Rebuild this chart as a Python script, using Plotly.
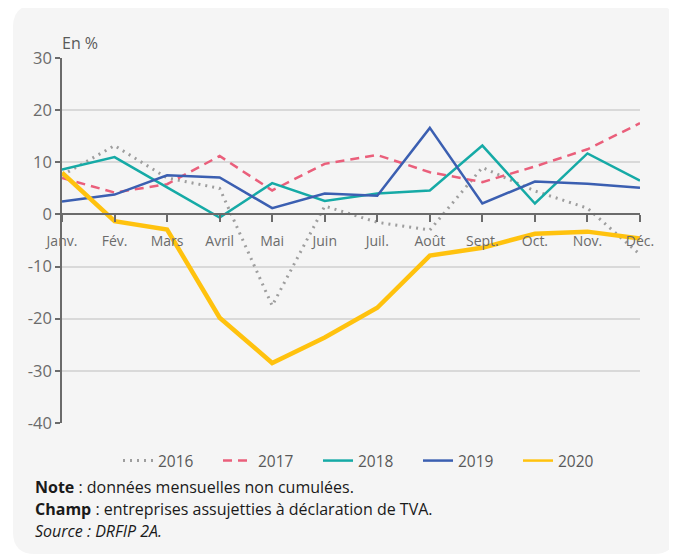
import plotly.graph_objects as go

months = ["Janv.", "Fév.", "Mars", "Avril", "Mai", "Juin", "Juil.", "Août", "Sept.", "Oct.", "Nov.", "Déc."]
y2016 = [7.5, 13.2, 7.0, 5.0, -17.5, 1.6, -1.5, -3.0, 9.0, 4.5, 1.2, -7.7]
y2017 = [7.0, 4.2, 5.8, 11.2, 4.6, 9.7, 11.4, 8.1, 6.2, 9.2, 12.5, 17.5]
y2018 = [8.6, 11.0, 5.2, -0.6, 6.0, 2.6, 4.0, 4.6, 13.2, 2.1, 11.7, 6.5]
y2019 = [2.5, 3.8, 7.5, 7.1, 1.2, 4.0, 3.6, 16.6, 2.1, 6.3, 5.9, 5.1]
y2020 = [8.0, -1.3, -2.9, -19.8, -28.5, -23.6, -17.9, -7.9, -6.4, -3.7, -3.3, -4.6]
yticks = [30, 20, 10, 0, -10, -20, -30, -40]
yticklabels = ["30", "20", "10", "0", "-10", "-20", "-30", "-40"]

OFF = 8  # browser body margin
W, H = 677 - OFF, 555 - OFF
L, R, T, B = 62, 640, 58, 423  # plot area in screen pixels
FONT = "Open Sans"

def px(x):
    return (x - L) / (R - L)

def py(y):
    return (B - y) / (B - T)

xs = list(range(len(months)))
fig = go.Figure()
series = [
    ("2016", y2016, dict(color="#9e9e9e", width=3, dash="2px,5px"), None),
    ("2017", y2017, dict(color="#ea5f7b", width=2.5, dash="9px,6px"), None),
    ("2018", y2018, dict(color="#16aaa6", width=2.5), None),
    ("2019", y2019, dict(color="#3b5fb1", width=2.5), None),
    ("2020", y2020, dict(color="#ffc20e", width=4.5), dict(color="#ffc20e", width=2.5)),
]
for name, ys, line, legline in series:
    if legline is None:
        fig.add_trace(go.Scatter(x=xs, y=ys, mode="lines", name=name, line=line))
    else:
        # thick line on the chart, thin sample in the legend
        fig.add_trace(go.Scatter(x=xs, y=ys, mode="lines", name=name, line=line,
                                 legendgroup=name, showlegend=False))
        fig.add_trace(go.Scatter(x=[None], y=[None], mode="lines", name=name, line=legline,
                                 legendgroup=name, showlegend=True))

# rounded card background
x0, y0, x1, y1, r = 13, 5, 676, 554, 22
path = (
    f"M {px(x0 + r)} {py(y0)} L {px(x1 - r)} {py(y0)} Q {px(x1)} {py(y0)} {px(x1)} {py(y0 + r)} "
    f"L {px(x1)} {py(y1 - r)} Q {px(x1)} {py(y1)} {px(x1 - r)} {py(y1)} "
    f"L {px(x0 + r)} {py(y1)} Q {px(x0)} {py(y1)} {px(x0)} {py(y1 - r)} "
    f"L {px(x0)} {py(y0 + r)} Q {px(x0)} {py(y0)} {px(x0 + r)} {py(y0)} Z"
)
fig.add_shape(type="path", path=path, xref="paper", yref="paper",
              fillcolor="#f5f5f5", line=dict(width=0), layer="below")

fig.update_layout(
    width=W, height=H,
    margin=dict(l=L - OFF, r=W - (R - OFF), t=T - OFF, b=H - (B - OFF)),
    paper_bgcolor="white", plot_bgcolor="rgba(0,0,0,0)",
    font=dict(family=FONT, color="#595959", size=14),
    showlegend=True,
    legend=dict(orientation="h", x=px(118), xanchor="left", y=py(461), yanchor="middle",
                font=dict(size=15.5, color="#595959"), bgcolor="rgba(0,0,0,0)",
                entrywidth=55, entrywidthmode="pixels", itemwidth=30, tracegroupgap=0),
    xaxis=dict(range=[0, 11], tickvals=xs, ticktext=months, showgrid=False, zeroline=False,
               showline=True, linecolor="#6b6b6b", linewidth=1.5,
               ticks="outside", ticklen=7, tickcolor="#6b6b6b", tickwidth=1.5,
               anchor="free", position=40 / 70,
               tickfont=dict(size=14, color="#6b6b6b"), ticklabelstandoff=7),
    yaxis=dict(range=[-40, 30], tickvals=yticks, ticktext=yticklabels, showgrid=True,
               gridcolor="#d9d9d9", gridwidth=1.5,
               zeroline=False, showline=True, linecolor="#6b6b6b", linewidth=1.5,
               ticks="outside", ticklen=5, tickcolor="#6b6b6b", tickwidth=1.5,
               tickfont=dict(size=16.5, color="#6b6b6b")),
)

fig.add_annotation(text="En %", x=px(60), y=py(43), xref="paper", yref="paper",
                   xanchor="left", yanchor="middle", showarrow=False,
                   font=dict(size=16, color="#595959"))
notes = [
    ("<b>Note</b> : données mensuelles non cumulées.", 487),
    ("<b>Champ</b> : entreprises assujetties à déclaration de TVA.", 509),
    ("<i>Source : DRFIP 2A.</i>", 531),
]
for txt, yy in notes:
    fig.add_annotation(text=txt, x=px(33), y=py(yy), xref="paper", yref="paper",
                       xanchor="left", yanchor="middle", showarrow=False,
                       font=dict(size=16, color="#1a1a1a"))

fig.write_html("out.html")
